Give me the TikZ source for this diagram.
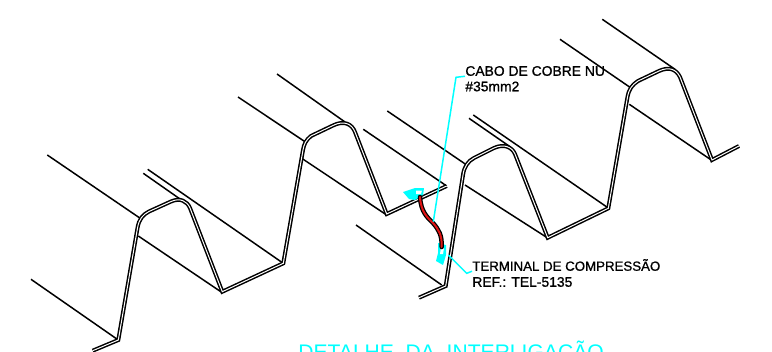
\documentclass[tikz,border=0pt]{standalone}
\usepackage{fontspec}
\setmainfont{Liberation Sans}
\newfontfamily\boldcallfont[FakeBold=1]{Liberation Sans}
\definecolor{acadcyan}{RGB}{0,255,255}
\definecolor{acadred}{RGB}{225,20,20}
\tikzset{
	sheet/.style={draw=black,line width=0.3mm,double=white,double distance=0.2mm,line join=miter},
	edgeline/.style={draw=black,line width=0.3mm},
	leader/.style={draw=acadcyan,line width=0.3mm},
	calltext/.style={inner sep=0pt,anchor=west,font=\fontsize{7.9pt}{8pt}\boldcallfont},
	cable/.style={line cap=round,line join=round}
}
\begin{document}
\begin{tikzpicture}[x=0.02cm,y=-0.02cm]
	\useasboundingbox (0,0) rectangle (772,352);
	\clip (0,0) rectangle (772,352);

	%Longitudinal edges, left half
	\draw [edgeline] (31,279.3) to (118.3,340);
	\draw [edgeline] (47.3,155) to (141.7,219.3);
	\draw [edgeline] (138.3,236) to (222.3,292.7);
	\draw [edgeline] (143.3,173.3) to (180,199);
	\draw [edgeline] (147.7,169.3) to (283.3,263.3);
	\draw [edgeline] (238,97) to (305,141.7);
	\draw [edgeline] (277,74) to (345,122);
	\draw [edgeline] (301.7,158.3) to (386.7,215);

	%Longitudinal edges, right half
	\draw [edgeline] (363.3,129.3) to (446.7,186);
	\draw [edgeline] (387.3,111) to (466.7,165);
	\draw [edgeline] (465,185) to (547.7,238);
	\draw [edgeline] (473.3,115) to (608.3,208);
	\draw [edgeline] (469,118.3) to (510,146.7);
	\draw [edgeline] (356,225) to (441.7,285);
	\draw [edgeline] (560,39.3) to (630,87.3);
	\draw [edgeline] (602.3,19.3) to (675,69.3);
	\draw [edgeline] (629.3,104.3) to (712.3,160.7);

	%Left sheet profile
	\draw [sheet] (92.7,350.7) to (118.3,340) to (137.5,228)
	.. controls (139,219) and (143,214.5) .. (149,211.5)
	to (171,201.5) .. controls (180,197.5) and (187,201) .. (190,208)
	to (222.3,291.7) to (283.3,263.3) to (303,150)
	.. controls (304,144) and (306,140) .. (311,136)
	to (333,125.5) .. controls (344,120) and (352,124) .. (355,132)
	to (386.7,214) to (446.7,186);

	%Right sheet profile
	\draw [sheet] (419,297.7) to (445.7,286) to (463,175)
	.. controls (464,167) and (468,161) .. (474,158)
	to (494,148) .. controls (504,143.5) and (512,147) .. (515,154)
	to (547.7,237.7) to (608.3,208.3) to (627.5,97)
	.. controls (629,89) and (632,85) .. (638,81)
	to (659,71) .. controls (669,66.5) and (676,69) .. (680,77)
	to (712,160) to (739,146);

	%Lugs
	\fill [acadcyan] (403,192) to (415,188) to (424,188) to (423,195) to (415,200) to (409,199) -- cycle;
	\fill [white] (416,190.5) to (422,190.5) to (421,194) to (416,194) -- cycle;
	\fill [acadcyan] (438,243) to (446,245) to (446,255) to (443,265) to (436,261) to (438,253) -- cycle;
	\fill [white] (441,247) to (444,248) to (443,254) to (440,254) -- cycle;

	%Copper cable
	\draw [cable,black,line width=0.09cm] (420,197) .. controls (421,212) and (427,217) .. (433,223)
	.. controls (439,230) and (442,235) .. (441.7,247);
	\draw [cable,acadred,line width=0.04cm] (420,197) .. controls (421,212) and (427,217) .. (433,223)
	.. controls (439,230) and (442,235) .. (441.7,247);

	%Labels
	\node [calltext] (cabolabel) at (465,71) {CABO DE COBRE NU};
	\node [calltext] (cabosize) at (465,86.5) {\#35mm2};
	\node [calltext,font=\fontsize{7.55pt}{8pt}\boldcallfont] (terminallabel) at (472,265) {TERMINAL DE COMPRESSÃO};
	\node [calltext] (reflabel) at (472,282) {REF.: TEL-5135};
	\node [inner sep=0pt,anchor=north west,text=acadcyan,font=\fontsize{12pt}{13pt}\selectfont] (titlelabel) at (298,341) {DETALHE\ \ DA\ \ INTERLIGAÇÃO};

	%Leaders
	\coordinate (cabobend) at (456,77.3);
	\coordinate (cabotip) at (433.3,221.7);
	\coordinate (terminalbend) at (466.7,273.3);
	\coordinate (terminaltip) at (448.3,255);
	\draw [leader] (cabolabel.south west) to (cabobend) to (cabotip);
	\draw [leader] (terminallabel.south west) to (terminalbend) to (terminaltip);
\end{tikzpicture}
\end{document}
